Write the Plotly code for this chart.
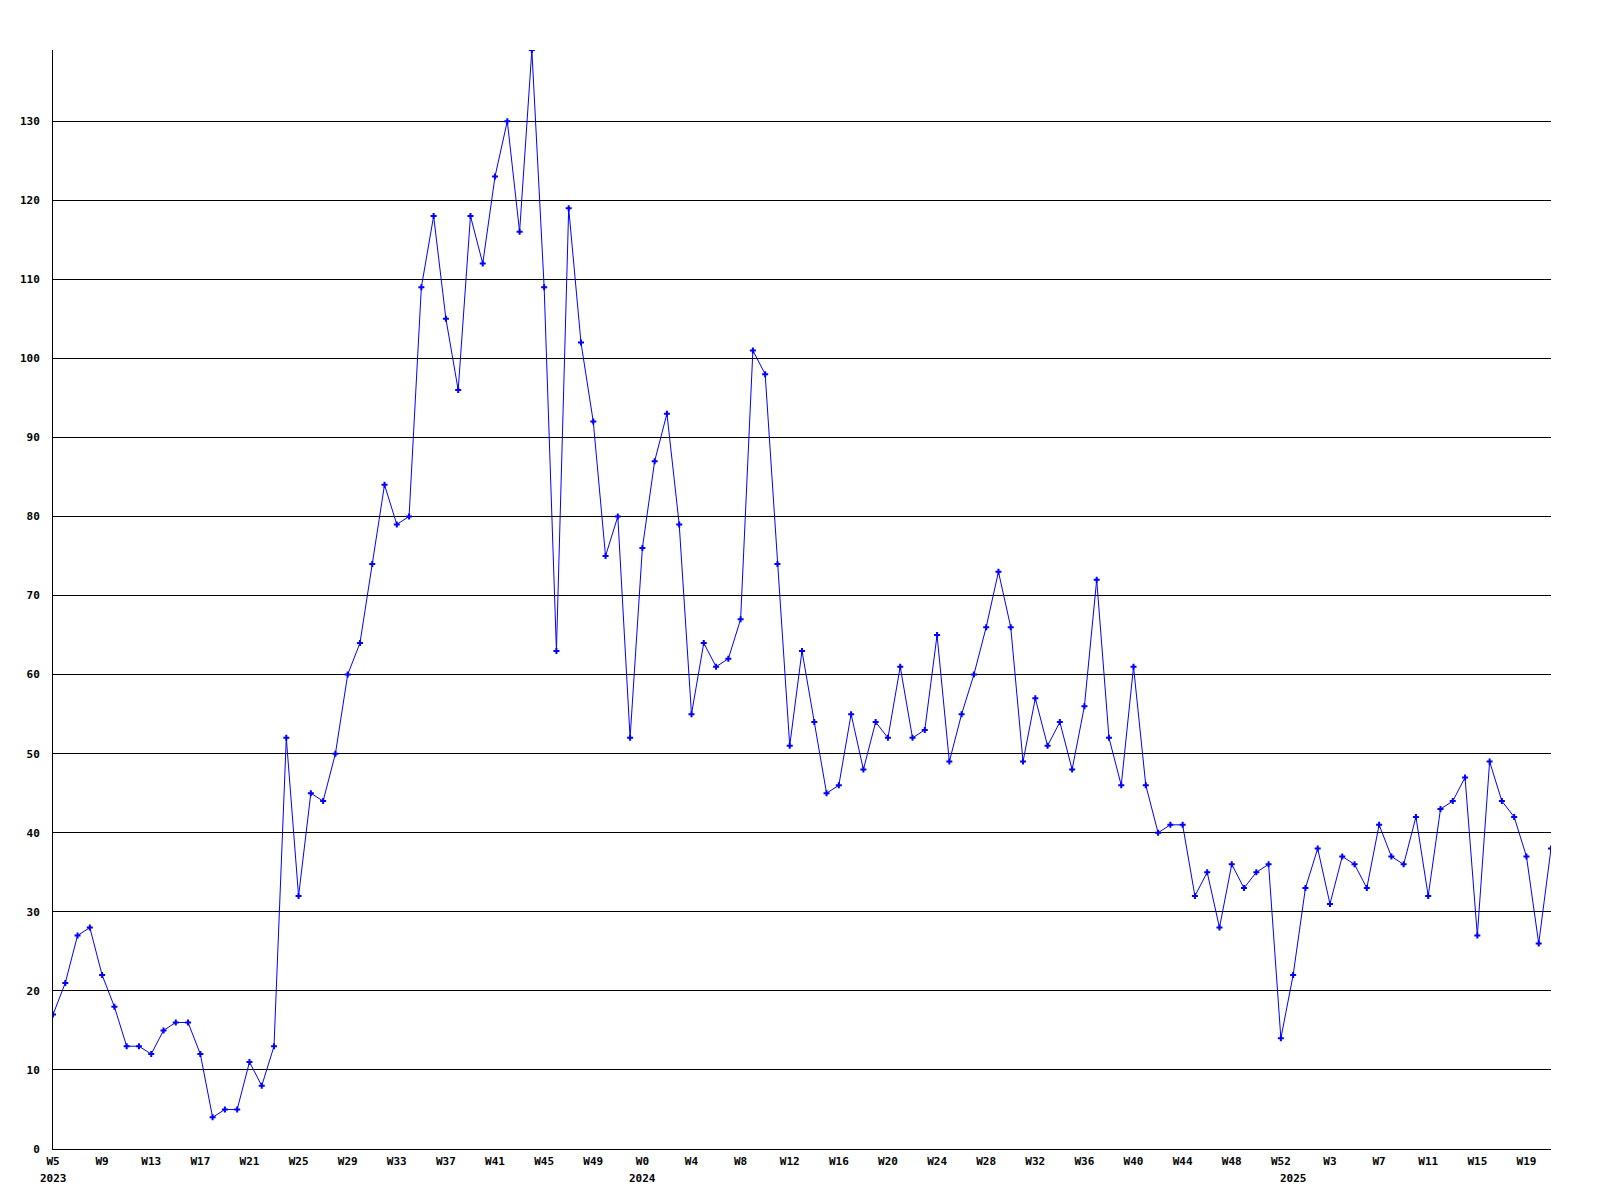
import plotly.graph_objects as go

# ---- data ----
weeks_2023 = list(range(5, 53))          # W5 .. W52
values_2023 = [17, 21, 27, 28, 22, 18, 13, 13, 12, 15, 16, 16, 12, 4, 5, 5, 11, 8, 13, 52,
               32, 45, 44, 50, 60, 64, 74, 84, 79, 80, 109, 118, 105, 96, 118, 112, 123, 130, 116, 139,
               109, 63, 119, 102, 92, 75, 80, 52]
weeks_2024 = list(range(0, 53))          # W0 .. W52
values_2024 = [76, 87, 93, 79, 55, 64, 61, 62, 67, 101, 98, 74, 51, 63, 54, 45, 46, 55, 48, 54,
               52, 61, 52, 53, 65, 49, 55, 60, 66, 73, 66, 49, 57, 51, 54, 48, 56, 72, 52, 46,
               61, 46, 40, 41, 41, 32, 35, 28, 36, 33, 35, 36, 14]
weeks_2025 = list(range(0, 22))          # W0 .. W21
values_2025 = [22, 33, 38, 31, 37, 36, 33, 41, 37, 36, 42, 32, 43, 44, 47, 27, 49, 44, 42, 37,
               26, 38]

tick_labels = ["W5", "W9", "W13", "W17", "W21", "W25", "W29", "W33", "W37", "W41", "W45", "W49",
               "W0", "W4", "W8", "W12", "W16", "W20", "W24", "W28", "W32", "W36", "W40", "W44",
               "W48", "W52", "W3", "W7", "W11", "W15", "W19"]
year_labels = ["2023", "2024", "2025"]
y_ticks = [0, 10, 20, 30, 40, 50, 60, 70, 80, 90, 100, 110, 120, 130]

# ---- build categories ----
cats, vals = [], []
for yr, wks, vs in [("2023", weeks_2023, values_2023),
                    ("2024", weeks_2024, values_2024),
                    ("2025", weeks_2025, values_2025)]:
    for w, v in zip(wks, vs):
        cats.append(f"{yr} W{w}")
        vals.append(v)

tick_vals = cats[0::4]
first_of_year = [f"{yr} W{w[0]}" for yr, w in zip(year_labels, [weeks_2023, weeks_2024, weeks_2025])]

FONT = "DejaVu Sans Mono"

fig = go.Figure()
fig.add_trace(go.Scatter(
    x=cats, y=vals, mode="lines+markers",
    line=dict(color="#0000ff", width=1),
    marker=dict(symbol="cross", size=5, color="#0000ff", line=dict(width=0)),
    showlegend=False,
))

for yl, c in zip(year_labels, first_of_year):
    fig.add_annotation(x=c, y=0, xref="x", yref="paper", text=f"<b>{yl}</b>",
                       showarrow=False, yanchor="top", yshift=-21,
                       font=dict(family=FONT, size=11, color="black"))

fig.update_layout(
    width=1584, height=1184,
    margin=dict(l=41, r=41, t=42, b=43),
    plot_bgcolor="white", paper_bgcolor="white",
    font=dict(family=FONT, size=11, color="black"),
)
fig.update_xaxes(
    type="category", range=[0, len(cats) - 1],
    tickmode="array", tickvals=tick_vals,
    ticktext=[f"<b>{t}</b>" for t in tick_labels],
    showgrid=False, zeroline=False,
    showline=True, linecolor="black", linewidth=1,
    ticks="", ticklabelstandoff=2,
    tickfont=dict(family=FONT, size=11, color="black"),
)
fig.update_yaxes(
    range=[0, 139],
    tickmode="array", tickvals=y_ticks,
    ticktext=[f"<b>{t}</b>" for t in y_ticks],
    showgrid=True, gridcolor="black", gridwidth=1,
    zeroline=False,
    showline=True, linecolor="black", linewidth=1,
    ticks="", ticklabelstandoff=10,
    tickfont=dict(family=FONT, size=11, color="black"),
)

fig.write_html("out.html")
